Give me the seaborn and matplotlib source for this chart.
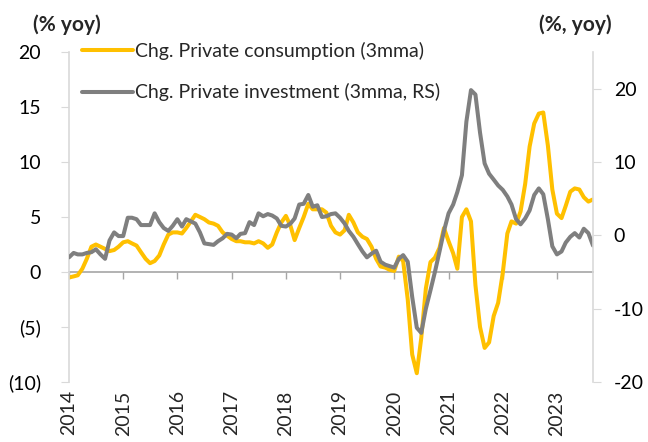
import numpy as np
import pandas as pd
import matplotlib
matplotlib.use("Agg")
import matplotlib.pyplot as plt
from matplotlib.ticker import FuncFormatter
import seaborn as sns

sns.set_style("white")
plt.rcParams['font.family'] = ['Lato', 'DejaVu Sans']

# ---- data (monthly, Jan 2014 - Sep 2023) ----
consumption = [
    -0.5, -0.4, -0.3, 0.3, 1.2, 2.3, 2.5, 2.3, 2.1, 1.9, 2.0, 2.3,      # 2014
    2.7, 2.8, 2.6, 2.4, 1.8, 1.2, 0.8, 1.0, 1.5, 2.5, 3.4, 3.6,         # 2015
    3.6, 3.5, 4.0, 4.6, 5.2, 5.0, 4.8, 4.5, 4.4, 4.2, 3.6, 3.3,         # 2016
    3.0, 2.8, 2.8, 2.7, 2.7, 2.6, 2.8, 2.6, 2.2, 2.5, 3.6, 4.5,         # 2017
    5.1, 4.2, 2.9, 4.0, 5.0, 6.2, 5.7, 5.7, 5.7, 5.4, 4.2, 3.6,         # 2018
    3.4, 3.8, 5.2, 4.5, 3.6, 3.2, 3.0, 2.3, 1.2, 0.5, 0.4, 0.2,         # 2019
    0.1, 1.4, 1.0, -2.5, -7.5, -9.2, -6.0, -1.5, 0.9, 1.3, 2.2, 4.0,    # 2020
    2.8, 1.7, 0.3, 5.0, 5.7, 4.6, -1.2, -5.0, -6.9, -6.4, -4.0, -2.8,   # 2021
    -0.1, 3.5, 4.6, 4.4, 5.5, 8.0, 11.4, 13.5, 14.4, 14.5, 11.5, 7.5,   # 2022
    5.3, 4.9, 6.0, 7.3, 7.6, 7.5, 6.8, 6.4, 6.6,                        # 2023
]
investment = [
    -3.0, -2.4, -2.6, -2.6, -2.4, -2.3, -1.9, -2.6, -3.2, -0.7, 0.4, -0.1,   # 2014
    -0.1, 2.4, 2.4, 2.2, 1.4, 1.4, 1.4, 3.0, 1.8, 1.0, 0.6, 1.3,             # 2015
    2.2, 1.2, 2.2, 1.9, 1.6, 0.4, -1.1, -1.2, -1.3, -0.8, -0.4, 0.2,         # 2016
    0.1, -0.4, 0.2, 0.3, 1.8, 1.4, 3.0, 2.6, 2.9, 2.7, 2.3, 1.3,             # 2017
    1.2, 1.6, 2.3, 4.2, 4.3, 5.5, 3.9, 4.1, 2.5, 2.6, 2.9, 3.0,              # 2018
    2.4, 1.6, 0.6, -0.2, -1.2, -2.2, -3.0, -2.5, -2.1, -3.6, -4.0, -4.2,     # 2019
    -4.4, -3.2, -2.7, -3.6, -8.4, -12.6, -13.3, -10.0, -7.5, -5.0, -2.2, 0.6, # 2020
    3.0, 4.2, 5.9, 8.2, 15.5, 19.8, 19.2, 14.0, 9.8, 8.4, 7.6, 6.8,          # 2021
    6.2, 5.3, 4.2, 2.2, 1.5, 2.3, 3.4, 5.5, 6.4, 5.6, 2.2, -1.5,             # 2022
    -2.6, -2.2, -1.0, -0.2, 0.3, -0.3, 0.9, 0.3, -1.4,                       # 2023
]
years = [str(y) for y in range(2014, 2024)]
label_cons = "Chg. Private consumption (3mma)"
label_inv = "Chg. Private investment (3mma, RS)"

dates = pd.date_range("2014-01-01", periods=len(consumption), freq="MS")
df = pd.DataFrame({"date": dates, "cons": consumption, "inv": investment})

YELLOW = "#FFC000"
GREY = "#7F7F7F"
SPINE = "#D9D9D9"
FS = 14

fig = plt.figure(figsize=(6.48, 4.42), dpi=100)
ax = fig.add_axes([69/648, 60/442, 524/648, 330/442])
ax2 = ax.twinx()

sns.lineplot(data=df, x="date", y="cons", ax=ax, color=YELLOW, linewidth=2.9,
             label=label_cons, legend=False)
sns.lineplot(data=df, x="date", y="inv", ax=ax2, color=GREY, linewidth=2.9,
             label=label_inv, legend=False)

ax.set_xlim(dates[0], dates[-1])
ax.set_ylim(-10, 20)
ax2.set_ylim(-20, 25)
ax.set_yticks([-10, -5, 0, 5, 10, 15, 20])
ax2.set_yticks([-20, -10, 0, 10, 20])
ax.yaxis.set_major_formatter(FuncFormatter(lambda v, p: f"({abs(int(v))})" if v < 0 else f"{int(v)}"))
ax2.yaxis.set_major_formatter(FuncFormatter(lambda v, p: f"{int(v)}"))

for a in (ax, ax2):
    a.set_xlabel("")
    a.set_ylabel("")
    a.grid(False)
    for s in a.spines.values():
        s.set_visible(False)
ax.spines["left"].set_visible(True)
ax.spines["left"].set_color(SPINE)
ax.spines["left"].set_linewidth(1.2)
ax2.spines["right"].set_visible(True)
ax2.spines["right"].set_color(SPINE)
ax2.spines["right"].set_linewidth(1.2)

ax.tick_params(axis="y", length=6, color=SPINE, labelsize=FS, labelcolor="#000000", pad=14)
ax2.tick_params(axis="y", length=6, color=SPINE, labelsize=FS, labelcolor="#000000", pad=9)

# year ticks / labels
year_dates = pd.to_datetime([f"{y}-01-01" for y in years])
ax.set_xticks(year_dates)
ax.set_xticklabels(years, rotation=90, fontsize=FS)
ax.tick_params(axis="x", length=0, pad=6)

# zero line with tick marks
sec = ax.secondary_xaxis(1/3)
sec.set_xticks(year_dates)
sec.set_xticklabels([])
sec.tick_params(axis="x", direction="out", length=5, color="#A6A6A6", width=1)
sec.spines["bottom"].set_color("#A6A6A6")
sec.spines["bottom"].set_linewidth(1.2)
sec.spines["top"].set_visible(False)

# legend
h1, l1 = ax.get_legend_handles_labels()
h2, l2 = ax2.get_legend_handles_labels()
leg = ax2.legend(h1 + h2, l1 + l2, loc="upper left", frameon=False,
                 bbox_to_anchor=(82/648, 1 - 42/442), bbox_transform=fig.transFigure,
                 fontsize=FS, handlelength=2.6, handletextpad=0.15, labelspacing=1.2,
                 borderaxespad=0, borderpad=0)

fig.text(33/648, 1 - 25/442, "(% yoy)", fontsize=15, fontweight="bold", ha="left", va="center")
fig.text(612/648, 1 - 25/442, "(%, yoy)", fontsize=15, fontweight="bold", ha="right", va="center")

fig.savefig("out.png", dpi=100)
